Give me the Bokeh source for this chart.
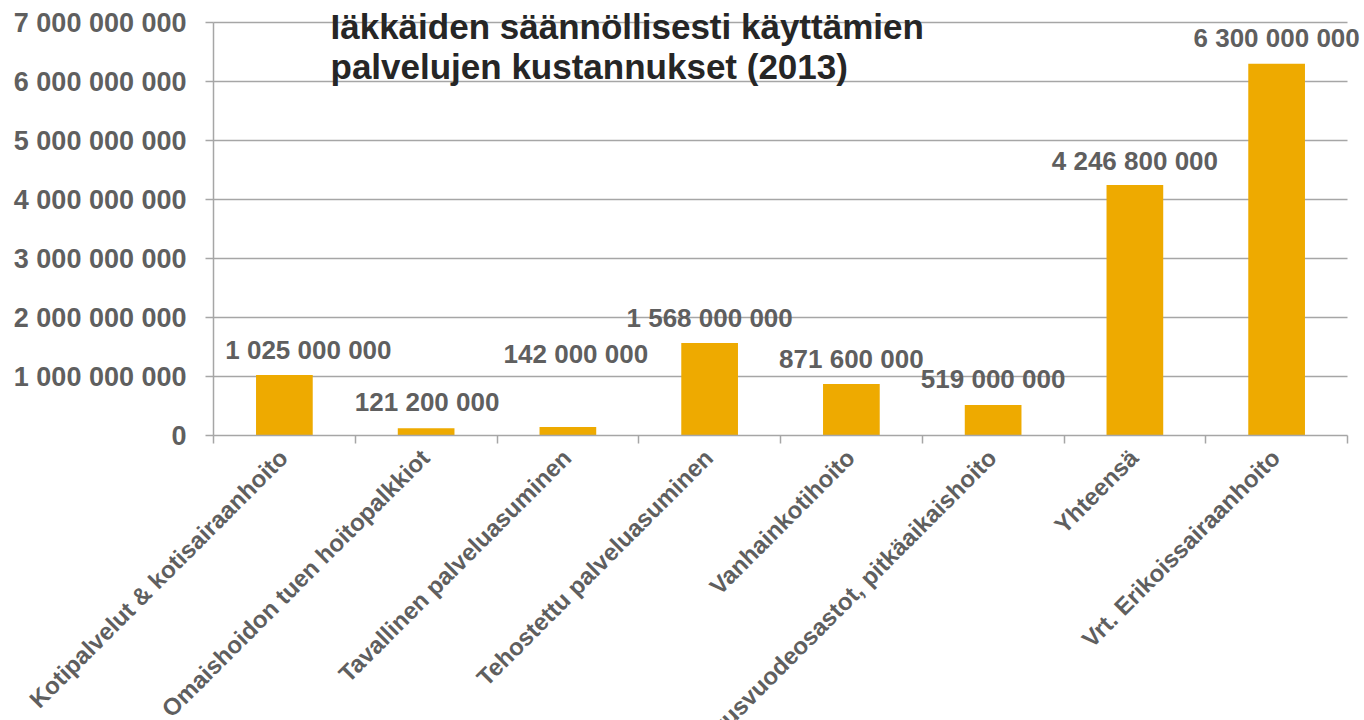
import math
from bokeh.plotting import figure
from bokeh.models import Range1d, FixedTicker, LinearAxis, ColumnDataSource, Label
from bokeh.embed import file_html
from bokeh.resources import INLINE

# ---- data ----
categories = [
    "Kotipalvelut & kotisairaanhoito",
    "Omaishoidon tuen hoitopalkkiot",
    "Tavallinen palveluasuminen",
    "Tehostettu palveluasuminen",
    "Vanhainkotihoito",
    "Terveyskeskusvuodeosastot, pitkäaikaishoito",
    "Yhteensä",
    "Vrt. Erikoissairaanhoito",
]
costs = [1025000000, 121200000, 142000000, 1568000000,
         871600000, 519000000, 4246800000, 6300000000]
y_ticks = [0, 1000000000, 2000000000, 3000000000, 4000000000,
           5000000000, 6000000000, 7000000000]
y_tick_labels = ["0", "1 000 000 000", "2 000 000 000", "3 000 000 000",
                 "4 000 000 000", "5 000 000 000", "6 000 000 000", "7 000 000 000"]
title_lines = ["Iäkkäiden säännöllisesti käyttämien",
               "palvelujen kustannukset (2013)"]

# ---- styling (label placement tweaks, pixels) ----
label_dx = [24, 1, 8, 0, 0, 0, 0, 0]
label_dy = [25, 26, 73, 25, 25, 26, 24, 26]

FONT = "Liberation Sans"
GRAY = "#5f5f5f"
BAR = "#EEAA00"
GRID = "#A6A6A6"

# ---- layout (pixels); the frame covers the whole canvas so nothing is clipped ----
W, H = 1364, 720
LEFT = 213            # left edge of the band area
PLOT_W = 1134         # width of the band area (8 categories)
TOP_PX = 22           # y pixel of the top gridline
ZERO_PX = 435         # y pixel of the zero line

n = len(categories)
ymax = y_ticks[-1]
px_per_unit = (ZERO_PX - TOP_PX) / ymax
px_per_band = PLOT_W / n

xpos = [i + 0.5 for i in range(n)]          # category centres on the band scale
value_labels = [f"{v:,}".replace(",", " ") for v in costs]

src = ColumnDataSource(dict(x=xpos, cat=categories, cost=costs))
grid_src = ColumnDataSource(dict(y=y_ticks[1:], x0=[0] * (len(y_ticks) - 1),
                                 x1=[n] * (len(y_ticks) - 1)))

p = figure(frame_width=W, frame_height=H,
           output_backend="svg", toolbar_location=None,
           x_range=Range1d(-LEFT / px_per_band, (W - LEFT) / px_per_band),
           y_range=Range1d(-(H - ZERO_PX) / px_per_unit, ymax + TOP_PX / px_per_unit),
           x_axis_location=None, y_axis_location=None,
           min_border_left=0, min_border_right=0, min_border_top=0,
           min_border_bottom=0)
p.outline_line_color = None
p.background_fill_color = "white"
p.border_fill_color = "white"
p.xgrid.grid_line_color = None
p.ygrid.grid_line_color = None

# horizontal gridlines across the band area only
p.segment(x0="x0", x1="x1", y0="y", y1="y", source=grid_src,
          line_color=GRID, line_width=1.5)

# y axis at x = 0
ya = LinearAxis(ticker=FixedTicker(ticks=y_ticks), fixed_location=0, bounds=(0, ymax))
ya.major_label_overrides = {t: s for t, s in zip(y_ticks, y_tick_labels)}
ya.major_label_text_font = FONT
ya.major_label_text_font_style = "bold"
ya.major_label_text_font_size = "27px"
ya.major_label_text_color = GRAY
ya.axis_line_color = GRID
ya.axis_line_width = 1.5
ya.major_tick_line_color = GRID
ya.major_tick_line_width = 1.5
ya.major_tick_out = 8
ya.major_tick_in = 0
ya.minor_tick_line_color = None
ya.major_label_standoff = 19
p.add_layout(ya, "left")

# x axis at y = 0 with ticks on the boundaries between categories
xa = LinearAxis(ticker=FixedTicker(ticks=list(range(n + 1))),
                fixed_location=0, bounds=(0, n))
xa.major_label_text_font_size = "0px"
xa.major_label_standoff = 0
xa.axis_line_color = GRID
xa.axis_line_width = 1.5
xa.major_tick_line_color = GRID
xa.major_tick_line_width = 1.5
xa.major_tick_out = 8
xa.major_tick_in = 0
xa.minor_tick_line_color = None
p.add_layout(xa, "below")

# bars
p.vbar(x="x", top="cost", width=0.4, source=src,
       fill_color=BAR, line_color=None)

# value labels and rotated category labels
for i in range(n):
    p.add_layout(Label(x=xpos[i], y=costs[i], text=value_labels[i],
                       x_offset=label_dx[i], y_offset=label_dy[i],
                       text_align="center", text_baseline="middle",
                       text_font=FONT, text_font_style="bold",
                       text_font_size="26px", text_color=GRAY))
    p.add_layout(Label(x=xpos[i], y=0, text=categories[i],
                       x_offset=-1, y_offset=-18, angle=math.pi / 4,
                       text_align="right", text_baseline="middle",
                       text_font=FONT, text_font_style="bold",
                       text_font_size="24px", text_color=GRAY))

# title (overlapping the top of the plot area)
for i, line in enumerate(title_lines):
    p.add_layout(Label(x=330, y=H - 26 - 40 * i,
                       x_units="screen", y_units="screen",
                       text=line, text_font=FONT, text_font_style="bold",
                       text_font_size="35px", text_color="#262626",
                       text_baseline="alphabetic"))

open("out.html", "w").write(file_html(p, INLINE))
